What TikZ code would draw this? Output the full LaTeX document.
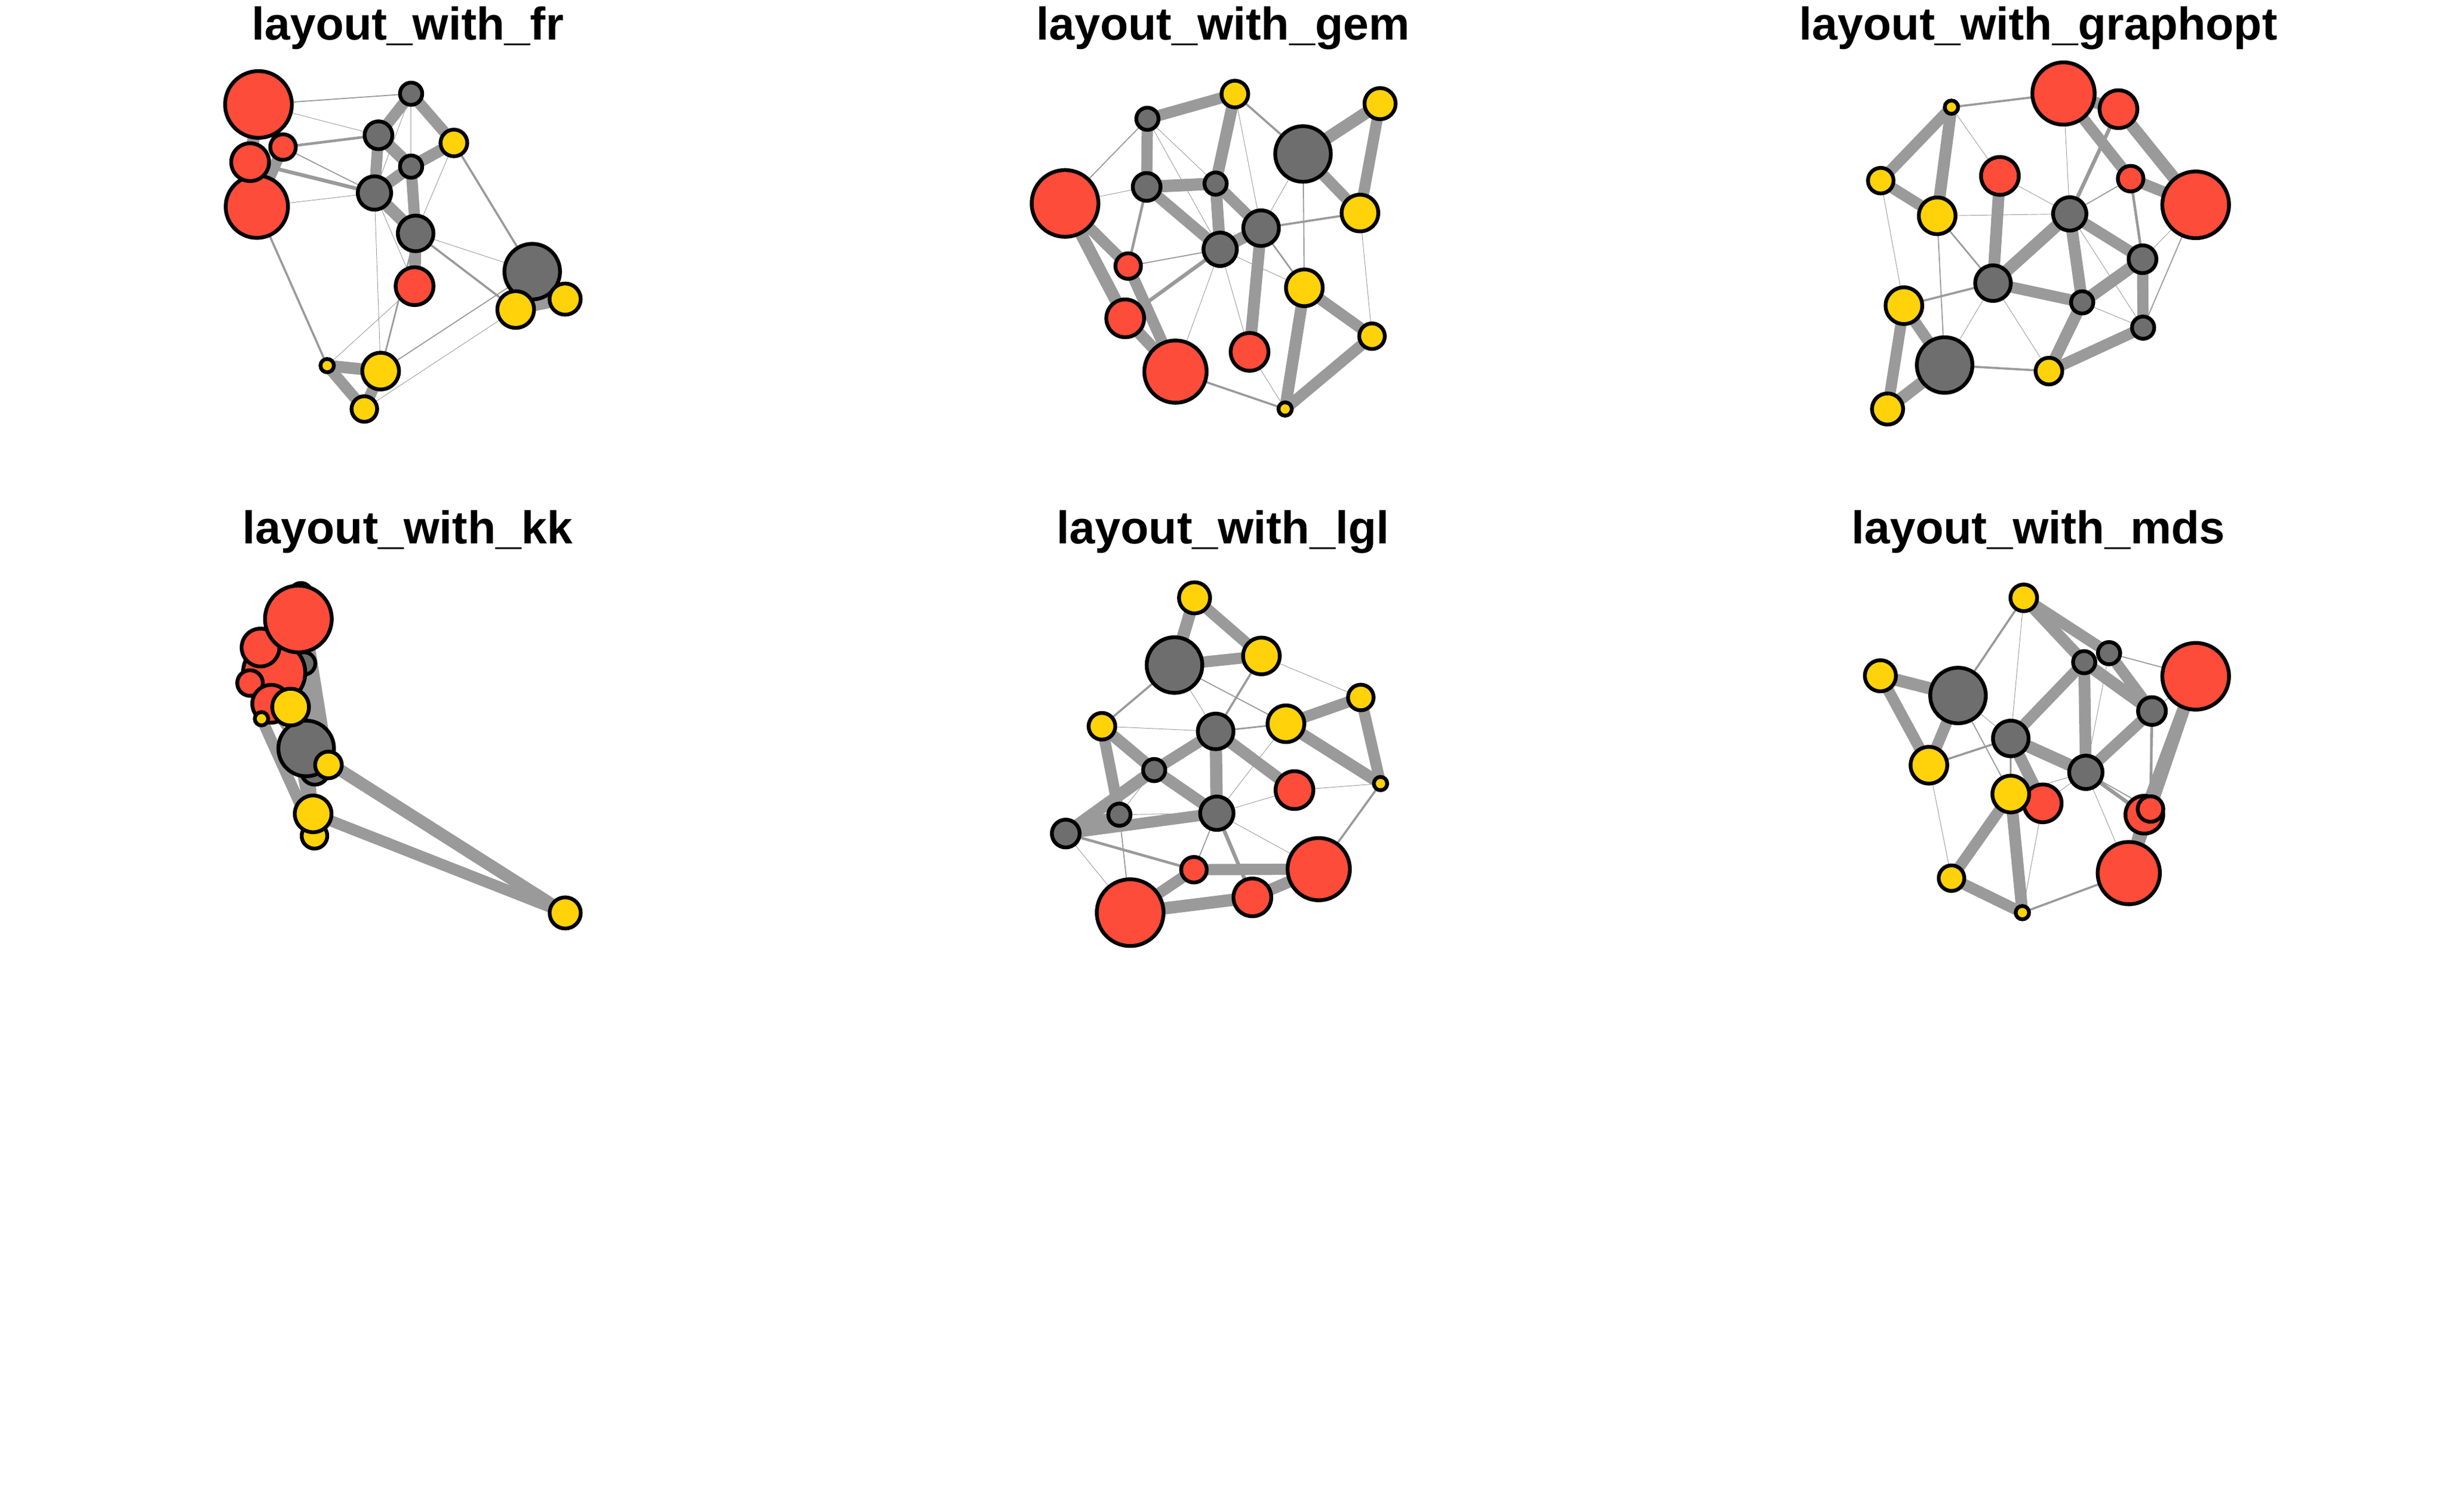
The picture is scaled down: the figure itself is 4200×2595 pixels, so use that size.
\documentclass[tikz,border=0pt]{standalone}
\usepackage{fontspec}
\setmainfont{Liberation Sans}
\pgfdeclarelayer{bg}
\pgfsetlayers{bg,main}
\definecolor{vgray}{RGB}{110,110,110}
\definecolor{vred}{RGB}{254,76,58}
\definecolor{vgold}{RGB}{255,210,10}
\definecolor{egray}{RGB}{154,154,154}
\tikzset{
  vtx/.style={circle, draw=black, line width=0.65pt, inner sep=0pt, outer sep=0pt},
  v1/.style={vtx, fill=vgray, minimum size=3.82pt},
  v2/.style={vtx, fill=vgray, minimum size=4.775pt},
  v3/.style={vtx, fill=vgray, minimum size=5.73pt},
  v4/.style={vtx, fill=vgray, minimum size=6.112pt},
  v5/.style={vtx, fill=vgray, minimum size=3.82pt},
  v6/.style={vtx, fill=vgray, minimum size=9.55pt},
  v7/.style={vtx, fill=vred, minimum size=10.696pt},
  v8/.style={vtx, fill=vred, minimum size=6.494pt},
  v9/.style={vtx, fill=vred, minimum size=11.46pt},
  v10/.style={vtx, fill=vred, minimum size=4.393pt},
  v11/.style={vtx, fill=vred, minimum size=6.494pt},
  v12/.style={vtx, fill=vgold, minimum size=6.303pt},
  v13/.style={vtx, fill=vgold, minimum size=4.393pt},
  v14/.style={vtx, fill=vgold, minimum size=2.292pt},
  v15/.style={vtx, fill=vgold, minimum size=4.584pt},
  v16/.style={vtx, fill=vgold, minimum size=5.348pt},
  v17/.style={vtx, fill=vgold, minimum size=6.303pt},
  edge/.style={draw=egray, line cap=round},
  ttl/.style={anchor=base, inner sep=0pt, font=\fontsize{7.9pt}{9pt}\selectfont\bfseries}
}
\begin{document}
\begin{tikzpicture}[x=0.1pt, y=-0.1pt]
\path[use as bounding box] (0,0) rectangle (4200,2595);

% titles
\node[ttl] (t1) at (700,68.4) {layout\_with\_fr};
\node[ttl] (t2) at (2100,68.4) {layout\_with\_gem};
\node[ttl] (t3) at (3500,68.4) {layout\_with\_graphopt};
\node[ttl] (t4) at (700,933.4) {layout\_with\_kk};
\node[ttl] (t5) at (2100,933.4) {layout\_with\_lgl};
\node[ttl] (t6) at (3500,933.4) {layout\_with\_mds};

% fr
\foreach \i/\x/\y in {1/705.9/286.0, 2/649.9/232.2, 3/643.0/331.3, 4/713.7/400.7,
  5/705.9/160.9, 6/913.9/466.3, 7/441.0/354.9, 8/429.5/278.4, 9/443.8/179.3,
  10/486.0/252.5, 11/711.9/491.3, 12/653.6/637.1, 13/625.6/702.2, 14/561.8/627.7,
  15/779.4/245.4, 16/970.4/513.5, 17/885.5/531.4}
  \node[v\i] (fr\i) at (\x,\y) {};

% gem
\foreach \i/\x/\y in {1/2087.3/315.2, 2/1968.9/320.9, 3/2095.1/428.0, 4/2165.4/391.7,
  5/1970.2/203.9, 6/2237.4/264.3, 7/2018.4/638.0, 8/1932.1/546.5, 9/1828.8/349.2,
  10/1937.2/456.8, 11/2145.6/604.1, 12/2239.7/494.1, 13/2355.9/577.2, 14/2206.7/702.2,
  15/2120.4/161.4, 16/2369.7/177.9, 17/2335.2/365.7}
  \node[v\i] (gem\i) at (\x,\y) {};

% graphopt
\foreach \i/\x/\y in {1/3575.3/519.1, 2/3678.9/445.0, 3/3553.9/367.2, 4/3422.2/486.1,
  5/3679.9/562.5, 6/3339.1/626.7, 7/3543.2/160.5, 8/3637.6/187.4, 9/3770.2/351.6,
  10/3658.5/306.7, 11/3434.0/302.0, 12/3326.3/370.5, 13/3229.4/310.1, 14/3350.8/184.0,
  15/3518.2/637.1, 16/3241.1/702.2, 17/3269.2/524.8}
  \node[v\i] (gop\i) at (\x,\y) {};

% kk
\foreach \i/\x/\y in {1/522.3/1139.0, 2/540.7/1323.3, 3/508.3/1073.3, 4/481.7/1146.7,
  5/516.7/1020.0, 6/525.7/1285.0, 7/470.7/1155.0, 8/447.3/1111.7, 9/512.3/1062.7,
  10/429.3/1172.7, 11/465.7/1208.3, 12/499.0/1214.0, 13/540.0/1435.0, 14/449.0/1234.0,
  15/564.0/1313.3, 16/970.5/1567.4, 17/537.7/1397.3}
  \node[v\i] (kk\i) at (\x,\y) {};

% lgl
\foreach \i/\x/\y in {1/1981.8/1322.1, 2/1830.0/1431.1, 3/2089.4/1396.2, 4/2087.4/1255.7,
  5/1922.1/1398.7, 6/2016.7/1141.8, 7/2264.4/1492.2, 8/2150.4/1540.7, 9/1940.6/1566.9,
  10/2050.1/1493.2, 11/2222.7/1356.5, 12/2208.1/1242.6, 13/2336.6/1197.5, 14/2370.5/1345.3,
  15/1892.1/1246.9, 16/2051.1/1026.4, 17/2166.0/1126.2}
  \node[v\i] (lgl\i) at (\x,\y) {};

% mds
\foreach \i/\x/\y in {1/3578.7/1136.9, 2/3695.1/1220.8, 3/3581.6/1326.0, 4/3452.7/1267.8,
  5/3621.4/1121.4, 6/3362.1/1194.1, 7/3655.3/1499.0, 8/3682.0/1398.7, 9/3770.2/1161.1,
  10/3692.6/1389.0, 11/3507.5/1379.3, 12/3452.7/1363.3, 13/3350.9/1507.7, 14/3472.6/1566.9,
  15/3475.0/1026.4, 16/3228.8/1160.2, 17/3312.1/1313.8}
  \node[v\i] (mds\i) at (\x,\y) {};

% edges
\begin{pgfonlayer}{bg}
\foreach \p in {fr,gem,gop,kk,lgl,mds}{
  \foreach \a/\b/\w in {1/2/2.109, 1/3/2.017, 1/4/1.925, 1/15/2.017, 2/3/1.925,
    2/9/0.092, 2/10/0.458, 3/4/2.109, 3/5/0.092, 3/8/0.642, 3/10/0.183, 3/11/0.092,
    3/12/0.092, 4/6/0.092, 4/11/2.017, 4/12/0.275, 4/17/0.367, 1/5/0.092, 2/5/1.925,
    5/9/0.183, 5/15/1.925, 6/16/2.109, 6/17/1.925, 3/7/0.092, 7/8/2.017, 7/10/1.925,
    7/14/0.367, 8/9/2.109, 9/10/1.925, 6/12/0.183, 12/13/1.925, 12/14/2.017,
    13/17/0.092, 11/14/0.092, 13/14/1.925, 4/15/0.092, 6/15/0.367, 16/17/1.925}
    \draw[edge, line width=\w pt] (\p\a.center) -- (\p\b.center);
}
\end{pgfonlayer}
\end{tikzpicture}
\end{document}
